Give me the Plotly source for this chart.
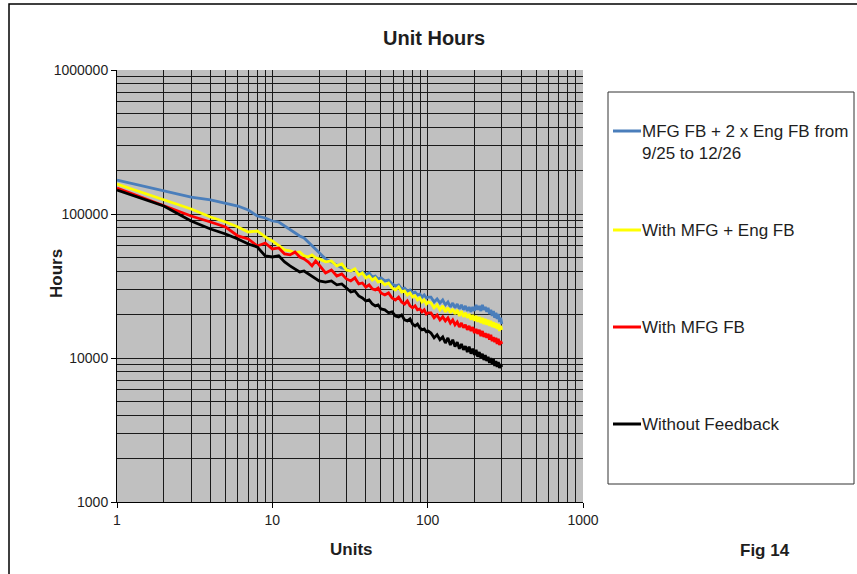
import plotly.graph_objects as go

# ---- data -----------------------------------------------------------------
units = [1, 2, 3, 4, 5, 6, 7, 8, 9, 10, 11, 12, 13, 14, 15, 16, 17, 18, 19, 20,
         22, 24, 26, 28, 30, 32, 34, 36, 38, 40, 42, 44, 46, 48, 50,
         53, 56, 59, 62, 65, 68, 71, 74, 77, 80, 83, 86, 89, 92, 95, 98, 101,
         105, 110, 115, 120, 125, 130, 135, 140, 145, 150,
         155, 160, 165, 170, 175, 180, 185, 190, 195, 200,
         205, 210, 215, 220, 225, 230, 235, 240, 245, 250,
         255, 260, 265, 270, 275, 280, 285, 290, 295, 300]

mfg_2x_eng_hours = [172200, 144400, 131200, 125100, 119200, 113600, 106600, 96800, 93800, 89400,
                    88000, 82500, 78700, 73800, 70400, 68200, 63900, 60000, 57200, 53700,
                    48800, 46500, 44300, 42200, 41600, 40200, 40900, 39000, 39600, 37700,
                    39000, 36500, 37100, 35400, 36000,
                    34300, 34800, 32700, 31600, 32200, 30200, 30600, 29200, 29700, 28300,
                    28700, 27400, 27800, 26500, 27400, 26100, 26500,
                    26500, 24500, 25700, 24100, 25300, 23400, 24500, 22600, 24100, 22300,
                    23700, 21900, 23400, 21600, 23000, 21200, 22600, 20900, 22600, 21200,
                    23400, 21600, 23000, 21200, 23400, 21600, 22600, 20900, 22300, 20200,
                    21600, 19600, 21200, 19000, 20600, 18700, 20200, 17800, 19000, 17200]

mfg_eng_hours = [161500, 125100, 108300, 95300, 88000, 81200, 75000, 76200, 69300, 65000,
                 60000, 56300, 55400, 53700, 54500, 51200, 50300, 52000, 49600, 48800,
                 46500, 47200, 43600, 45000, 40900, 40200, 41600, 37700, 39000, 36000,
                 37100, 34800, 36000, 33700, 34300,
                 32200, 33200, 30600, 29700, 31100, 28700, 29200, 27400, 28300, 26500,
                 27000, 25300, 26100, 24500, 25300, 23700, 24500,
                 24100, 22300, 23400, 21600, 23000, 20900, 22300, 20600, 21900, 20200,
                 21600, 19600, 21200, 19300, 20600, 19000, 20200, 18400, 19900, 18100,
                 19600, 17800, 19300, 17500, 19000, 17200, 18700, 17000, 18400, 16700,
                 18100, 16400, 17800, 16200, 17500, 15900, 17200, 15400, 16700, 15700]

mfg_hours = [151500, 113600, 96800, 88000, 81200, 70400, 67100, 60000, 62900, 57200,
             58100, 52800, 52000, 54500, 50300, 48800, 46500, 43600, 47200, 44300,
             39000, 40900, 37100, 38400, 35400, 34300, 36000, 32700, 33200, 31100,
             32200, 30200, 29700, 30600, 28300,
             27400, 28300, 26100, 25300, 26500, 24500, 23700, 24900, 23000, 22300,
             23000, 21600, 21900, 20900, 21600, 20200, 20600,
             20600, 19000, 19900, 18400, 19300, 18100, 19000, 17500, 18400, 17000,
             17800, 16400, 17500, 16200, 17000, 15700, 16700, 15400, 16400, 14900,
             15900, 14700, 15700, 14200, 15400, 14000, 14900, 13800, 14700, 13400,
             14500, 13100, 14000, 12900, 13800, 12500, 13600, 12300, 13100, 12500]

no_feedback_hours = [146800, 113600, 89400, 78700, 72700, 67100, 61900, 59000, 51200, 50300,
                     51200, 46500, 43600, 41600, 39600, 40200, 38400, 37100, 35400, 34300,
                     33700, 34300, 32200, 32700, 30600, 28700, 29200, 27000, 26100, 24900,
                     25300, 23700, 23000, 23400, 21900,
                     21600, 20600, 20900, 19600, 19300, 19900, 18400, 18100, 18700, 17200,
                     16700, 17200, 16200, 15700, 15900, 15200, 15400,
                     14900, 13800, 14500, 13400, 14000, 12700, 13800, 12300, 13400, 12000,
                     12900, 11600, 12500, 11400, 12100, 11000, 12000, 10700, 11600, 10500,
                     11400, 10200, 11000, 10000, 10700, 9680, 10500, 9530, 10200, 9230,
                     10000, 9080, 9840, 8800, 9530, 8660, 9380, 8520, 9080, 8660]

series_names = ["MFG FB + 2 x Eng FB from<br>9/25 to 12/26", "With MFG + Eng FB",
                "With MFG FB", "Without Feedback"]
series_values = [mfg_2x_eng_hours, mfg_eng_hours, mfg_hours, no_feedback_hours]
series_colors = ["#4a7ebb", "#ffff00", "#ff0000", "#000000"]

x_tick_vals = [1, 10, 100, 1000]
x_tick_labels = ["1", "10", "100", "1000"]
y_tick_vals = [1000, 10000, 100000, 1000000]
y_tick_labels = ["1000", "10000", "100000", "1000000"]

# ---- geometry helpers (pixel -> paper coordinates) -------------------------
FIG_W, FIG_H = 857, 574
L, R, T, B = 117, 274, 70, 72
PW, PH = FIG_W - L - R, FIG_H - T - B


def fx(px):
    return (px - L) / PW


def fy(py):
    return (FIG_H - B - py) / PH


FONT = "Arial, Liberation Sans, sans-serif"
TXT = "#1e1e1e"
GRID = "#1a1a1a"

fig = go.Figure()
for name, vals, col in zip(series_names, series_values, series_colors):
    fig.add_trace(go.Scatter(x=units, y=vals, mode="lines", name=name,
                             line=dict(color=col, width=2.8), showlegend=False))

# grid lines: every 1..9 step inside each decade (no line along the top edge)
x_grid = [m * 10 ** k for k in range(0, 3) for m in range(2, 10)] + [10, 100, 1000]
y_grid = [m * 10 ** k for k in range(3, 6) for m in range(2, 10)] + [10000, 100000]

axis_common = dict(type="log", showgrid=False,
                   zeroline=False, showline=True, linecolor="#000", linewidth=1,
                   ticks="outside", ticklen=5, tickcolor="#000",
                   tickfont=dict(family=FONT, size=14, color=TXT))

fig.update_layout(
    width=FIG_W, height=FIG_H,
    margin=dict(l=L, r=R, t=T, b=B),
    paper_bgcolor="white", plot_bgcolor="#c0c0c0",
    xaxis=dict(range=[0, 3], tickmode="array", tickvals=x_tick_vals, ticktext=x_tick_labels,
               minor=dict(tickmode="array", tickvals=x_grid, showgrid=True,
                          gridcolor=GRID, gridwidth=1, ticks=""),
               **axis_common),
    yaxis=dict(range=[3, 6], tickmode="array", tickvals=y_tick_vals, ticktext=y_tick_labels,
               minor=dict(tickmode="array", tickvals=y_grid, showgrid=True,
                          gridcolor=GRID, gridwidth=1, ticks=""),
               **axis_common),
    showlegend=False,
)

shapes = []
annotations = []

# outer frame
shapes.append(dict(type="rect", xref="paper", yref="paper",
                   x0=fx(9), x1=fx(880), y0=fy(600), y1=fy(4),
                   line=dict(color="#000", width=1.5), fillcolor="rgba(0,0,0,0)", layer="below"))

# titles
annotations.append(dict(text="<b>Unit Hours</b>", x=fx(434), y=fy(38), xref="paper", yref="paper",
                        showarrow=False, xanchor="center", yanchor="middle",
                        font=dict(family=FONT, size=20, color=TXT)))
annotations.append(dict(text="<b>Units</b>", x=fx(351), y=fy(549), xref="paper", yref="paper",
                        showarrow=False, xanchor="center", yanchor="middle",
                        font=dict(family=FONT, size=17, color=TXT)))
annotations.append(dict(text="<b>Hours</b>", x=fx(56), y=fy(273), xref="paper", yref="paper",
                        showarrow=False, xanchor="center", yanchor="middle", textangle=-90,
                        font=dict(family=FONT, size=17, color=TXT)))
annotations.append(dict(text="<b>Fig 14</b>", x=fx(765), y=fy(550), xref="paper", yref="paper",
                        showarrow=False, xanchor="center", yanchor="middle",
                        font=dict(family=FONT, size=17, color=TXT)))

# legend box
shapes.append(dict(type="rect", xref="paper", yref="paper",
                   x0=fx(608), x1=fx(854), y0=fy(484), y1=fy(92),
                   line=dict(color="#333", width=1), fillcolor="white"))
legend_rows = [131, 230, 327, 424]
text_mid = [142, 230, 327, 424]
for name, col, ly, ty in zip(series_names, series_colors, legend_rows, text_mid):
    shapes.append(dict(type="line", xref="paper", yref="paper",
                       x0=fx(613), x1=fx(641), y0=fy(ly), y1=fy(ly),
                       line=dict(color=col, width=3)))
    annotations.append(dict(text=name, x=fx(640), y=fy(ty), xref="paper", yref="paper",
                            showarrow=False, xanchor="left", yanchor="middle", align="left",
                            font=dict(family=FONT, size=17, color=TXT)))

fig.update_layout(shapes=shapes, annotations=annotations)
fig.write_html("out.html")
